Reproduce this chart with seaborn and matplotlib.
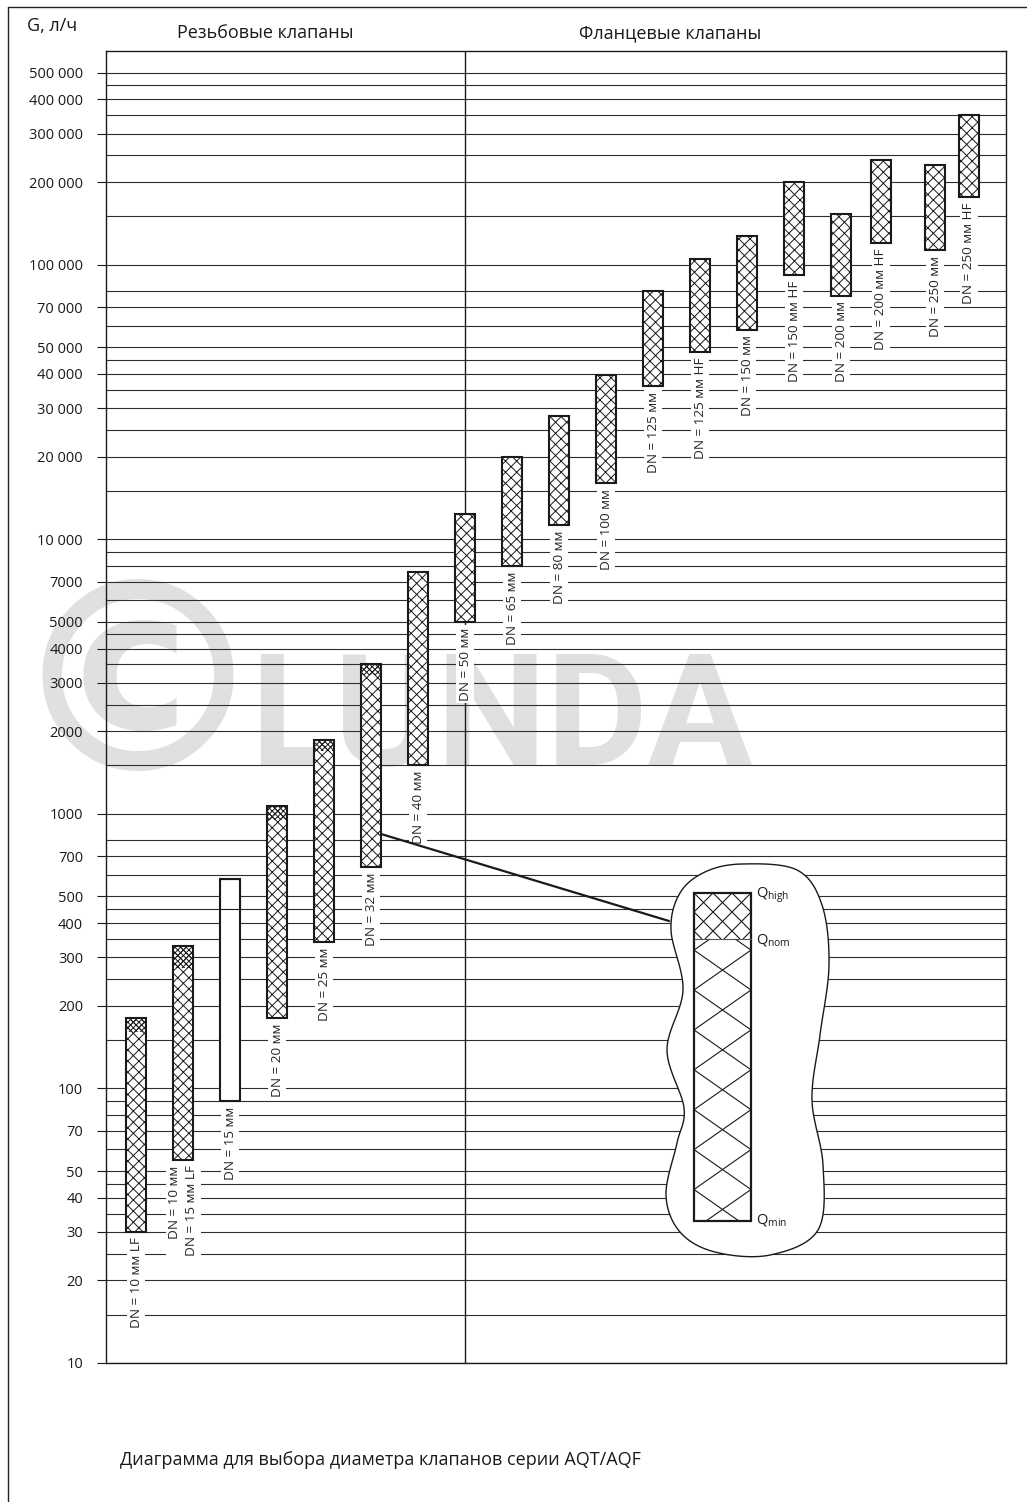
import numpy as np
import pandas as pd
import matplotlib
matplotlib.use("Agg")
import matplotlib.pyplot as plt
import seaborn as sns
from matplotlib.patches import Rectangle, ConnectionPatch
from matplotlib.collections import LineCollection
from matplotlib.ticker import FixedLocator, FixedFormatter, NullFormatter

# Диапазоны расхода клапанов AQT/AQF, л/ч (Qmin, Qnom, Qhigh)
labels = ["DN = 10 мм LF", "DN = 10 мм\nDN = 15 мм LF", "DN = 15 мм", "DN = 20 мм",
          "DN = 25 мм", "DN = 32 мм", "DN = 40 мм", "DN = 50 мм", "DN = 65 мм",
          "DN = 80 мм", "DN = 100 мм", "DN = 125 мм", "DN = 125 мм HF", "DN = 150 мм",
          "DN = 150 мм HF", "DN = 200 мм", "DN = 200 мм HF", "DN = 250 мм", "DN = 250 мм HF"]
q_min = [30, 55, 90, 180, 340, 640, 1500, 5000, 8000, 11300, 16000, 36000, 48000,
         58000, 92000, 77000, 120000, 113000, 177000]
q_nom = [160, 275, 450, 950, 1700, 3200, np.nan, np.nan, np.nan, np.nan, np.nan, np.nan,
         np.nan, np.nan, np.nan, np.nan, np.nan, np.nan, np.nan]
q_high = [180, 330, 580, 1070, 1850, 3500, 7600, 12400, 20000, 28000, 39500, 80000,
          105000, 127000, 200000, 153000, 240000, 230000, 350000]

tick_vals = [10, 20, 30, 40, 50, 70, 100, 200, 300, 400, 500, 700, 1000, 2000, 3000,
             4000, 5000, 7000, 10000, 20000, 30000, 40000, 50000, 70000, 100000,
             200000, 300000, 400000, 500000]
tick_text = ["10", "20", "30", "40", "50", "70", "100", "200", "300", "400", "500", "700",
             "1000", "2000", "3000", "4000", "5000", "7000", "10 000", "20 000", "30 000",
             "40 000", "50 000", "70 000", "100 000", "200 000", "300 000", "400 000",
             "500 000"]
extra_lines = [15, 25, 35, 45, 60, 80, 90, 150, 250, 350, 450, 600, 800, 1500, 2500, 3500,
               4500, 6000, 8000, 9000, 15000, 25000, 35000, 45000, 60000, 80000, 150000,
               250000, 350000, 450000]

# раскладка: позиции столбцов (HF-клапаны 200 и 250 сдвинуты влево)
slot = np.arange(len(labels), dtype=float)
slot[16] -= 0.15
slot[18] -= 0.28
BAR_W = 0.415
plain_bar = "DN = 15 мм"

sns.set_theme(style="white")
plt.rcParams["font.family"] = ["Open Sans", "DejaVu Sans"]
plt.rcParams["mathtext.fontset"] = "custom"
plt.rcParams["mathtext.rm"] = "Open Sans"
plt.rcParams["hatch.linewidth"] = 0.7
plt.rcParams["hatch.color"] = "#1a1a1a"

W, H = 1027, 1502
fig = plt.figure(figsize=(W / 100, H / 100), dpi=100)
fig.patch.set_facecolor("white")
ax = fig.add_axes([106 / W, 1 - 1363 / H, 900 / W, (1363 - 51) / H])
ax.set_yscale("log")

# оверлей в пиксельных координатах для рамки, подписей и выноски
ovl = fig.add_axes([0, 0, 1, 1], zorder=5)
ovl.set_xlim(0, W)
ovl.set_ylim(H, 0)
ovl.axis("off")
ovl.patch.set_alpha(0)

df = pd.DataFrame({"slot": slot, "label": labels, "q_min": q_min,
                   "q_nom": q_nom, "q_high": q_high})
df["span"] = df["q_high"] - df["q_min"]

# основной столбец: Qmin..Qhigh
sns.barplot(data=df, x="slot", y="span", native_scale=True,
            width=BAR_W / np.diff(np.sort(slot)).min(),
            bottom=df["q_min"].to_numpy(), color="white", edgecolor="#1a1a1a",
            linewidth=1.5, hatch="xxx", errorbar=None, ax=ax, zorder=3)
main_bars = list(ax.patches)

# зона Qnom..Qhigh с мелкой штриховкой
top = df.dropna(subset=["q_nom"]).copy()
top["top_span"] = top["q_high"] - top["q_nom"]
sns.barplot(data=top, x="slot", y="top_span", native_scale=True,
            width=BAR_W / np.diff(top["slot"]).min(),
            bottom=top["q_nom"].to_numpy(), color="white", facecolor="none",
            edgecolor="#1a1a1a", linewidth=0, hatch="xxxxxx", errorbar=None,
            ax=ax, zorder=3.5)
top_bars = ax.patches[len(main_bars):]

for lab, p in zip(df["label"], main_bars):
    if lab == plain_bar:
        p.set_hatch(None)
for lab, p in zip(top["label"], top_bars):
    if lab == plain_bar:
        p.set_hatch(None)
        p.set_linewidth(0.8)

for s, lab, lo in zip(df["slot"], df["label"], df["q_min"]):
    ax.annotate(lab, xy=(s, lo), xytext=(0, -4), textcoords="offset points",
                rotation=90, ha="center", va="top", fontsize=9.7,
                multialignment="right", linespacing=1.35, zorder=4,
                bbox=dict(boxstyle="square,pad=0.2", fc="white", ec="none"))

ax.set_ylim(10, 6e5)
ax.set_xlim(-0.64, 18.51)
ax.set_xticks([])
ax.set_xlabel("")
ax.set_ylabel("")
ax.yaxis.set_major_locator(FixedLocator(tick_vals))
ax.yaxis.set_major_formatter(FixedFormatter(tick_text))
ax.yaxis.set_minor_locator(FixedLocator(extra_lines))
ax.yaxis.set_minor_formatter(NullFormatter())
ax.set_axisbelow(True)
ax.grid(axis="y", which="both", color="#2e2e2e", linewidth=0.8)
ax.tick_params(axis="y", which="major", length=6.5, width=0.8, color="#1a1a1a",
               direction="out", pad=10, labelsize=10.5, labelcolor="#1a1a1a", left=True)
ax.tick_params(axis="y", which="minor", length=0)
for sp in ax.spines.values():
    sp.set_color("#1a1a1a")
    sp.set_linewidth(1.0)
ax.axvline(7, color="#1a1a1a", linewidth=1.0, zorder=1.5)

# водяной знак
wm = "#e0e0e0"
ax.text(250, 765, "LUNDA", transform=ovl.transData, fontsize=112, family="Roboto",
        fontweight="bold", color=wm, ha="left", va="baseline", zorder=0.3)
ax.text(138, 698, "©", transform=ovl.transData, fontsize=190, family="DejaVu Sans",
        fontweight="bold", color=wm, ha="center", va="center", zorder=0.3)

# подписи
ovl.text(27, 26, "G, л/ч", fontsize=13, ha="left", va="center", color="#1a1a1a")
ovl.text(265, 33, "Резьбовые клапаны", fontsize=13, ha="center", va="center", color="#1a1a1a")
ovl.text(670, 33, "Фланцевые клапаны", fontsize=13, ha="center", va="center", color="#1a1a1a")
ovl.text(120, 1460, "Диаграмма для выбора диаметра клапанов серии AQT/AQF", fontsize=13,
         ha="left", va="center", color="#1a1a1a")
ovl.plot([8, 8], [H, 7], color="#222222", linewidth=1.0)
ovl.plot([8, W], [7, 7], color="#222222", linewidth=1.0)


def smooth_closed(pts, n=24):
    p = np.asarray(pts, float)
    t = np.linspace(0, 1, n, endpoint=False)[:, None]
    out = []
    for i in range(len(p)):
        p0, p1, p2, p3 = p[i - 1], p[i], p[(i + 1) % len(p)], p[(i + 2) % len(p)]
        out.append(0.5 * (2 * p1 + (-p0 + p2) * t + (2 * p0 - 5 * p1 + 4 * p2 - p3) * t ** 2
                          + (-p0 + 3 * p1 - 3 * p2 + p3) * t ** 3))
    return np.vstack(out)


# выноска-пояснение
blob = smooth_closed([(742, 864), (797, 870), (822, 905), (829, 965), (820, 1035),
                      (812, 1100), (823, 1165), (818, 1230), (770, 1255), (715, 1252),
                      (680, 1232), (666, 1195), (677, 1143), (684, 1108), (667, 1050),
                      (683, 990), (671, 930), (680, 893), (705, 872)])
ovl.fill(blob[:, 0], blob[:, 1], facecolor="white", edgecolor="#1a1a1a", linewidth=1.0)

bx0, bx1, by_hi, by_nom, by_min = 694, 751, 893, 939, 1221


def diag_hatch(y0, y1, period, slope, phase):
    # перекрёстная штриховка, обрезанная по прямоугольнику
    dv = slope * period
    w = bx1 - bx0
    segs = []
    k0 = int(np.floor((y0 - slope * w - phase) / dv)) - 1
    k1 = int(np.ceil((y1 + slope * w - phase) / dv)) + 1
    for k in range(k0, k1 + 1):
        c = phase + k * dv
        for sgn in (1, -1):
            xa = bx0 + (y0 - c) / (sgn * slope)
            xb = bx0 + (y1 - c) / (sgn * slope)
            lo = max(bx0, min(xa, xb))
            hi = min(bx1, max(xa, xb))
            if hi > lo:
                segs.append([(lo, c + sgn * slope * (lo - bx0)),
                             (hi, c + sgn * slope * (hi - bx0))])
    ovl.add_collection(LineCollection(segs, colors="#1a1a1a", linewidths=0.8))


diag_hatch(by_hi, by_nom, 19, 1.0, by_hi)
diag_hatch(by_nom, by_min, 57, 0.7, 990)
ovl.plot([bx0, bx1], [by_nom, by_nom], color="#555555", linewidth=0.8)
ovl.add_patch(Rectangle((bx0, by_hi), bx1 - bx0, by_min - by_hi, fill=False,
                        edgecolor="#1a1a1a", linewidth=1.6))
ovl.text(756, by_hi + 2, r"Q$_{\rm high}$", fontsize=10.5, ha="left", va="center", color="#1a1a1a")
ovl.text(756, by_nom + 2, r"Q$_{\rm nom}$", fontsize=10.5, ha="left", va="center", color="#1a1a1a")
ovl.text(756, by_min, r"Q$_{\rm min}$", fontsize=10.5, ha="left", va="center", color="#1a1a1a")

con = ConnectionPatch(xyA=(5 + BAR_W / 2, 845), coordsA=ax.transData,
                      xyB=(669, 921), coordsB=ovl.transData,
                      color="#1a1a1a", linewidth=1.6)
ovl.add_artist(con)

fig.savefig("out.png", dpi=100, facecolor="white")
